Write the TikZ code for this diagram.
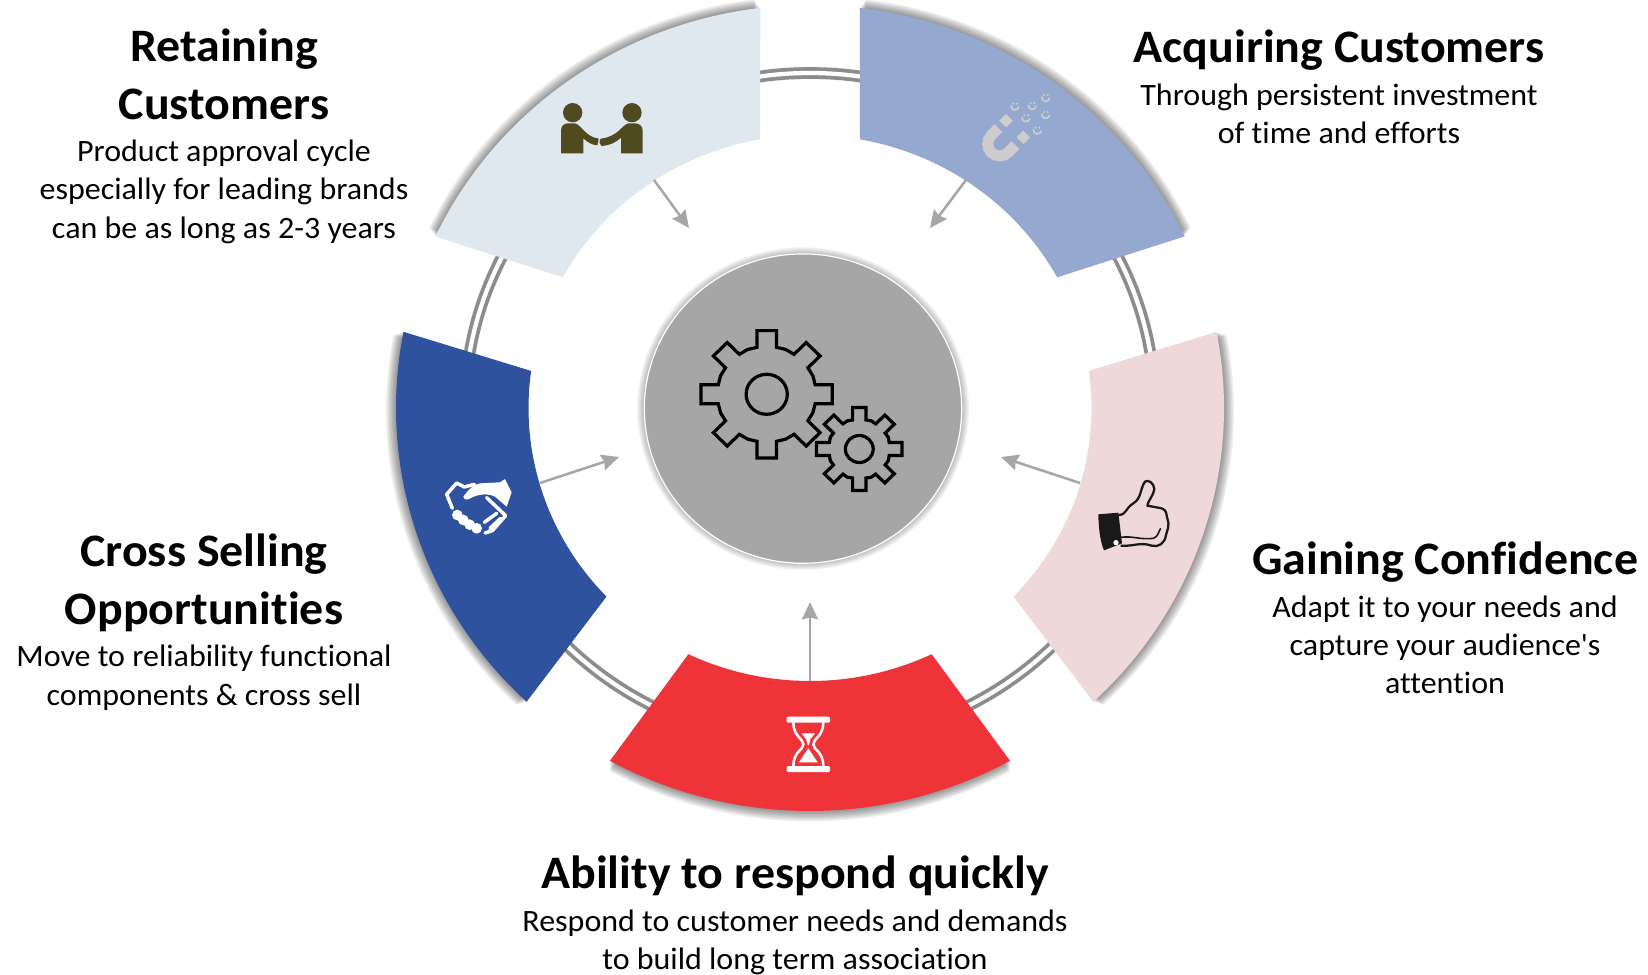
\documentclass[tikz,border=0pt]{standalone}
\usepackage{fontspec}
\setmainfont{Carlito}[Ligatures=NoCommon,FakeStretch=1.03]
\usepackage{tikz}
\usetikzlibrary{arrows.meta,shapes.geometric}

\definecolor{retaincol}{HTML}{DFE7EF}
\definecolor{acquirecol}{HTML}{95A8D0}
\definecolor{confidcol}{HTML}{EFD8D9}
\definecolor{respondcol}{HTML}{EE3339}
\definecolor{crosscol}{HTML}{2F529F}
\definecolor{ringcol}{HTML}{8C8C8C}
\definecolor{hubcol}{HTML}{A6A6A6}
\definecolor{peoplecol}{HTML}{4F4A20}
\definecolor{magnetcol}{HTML}{CDCDCD}

% colour, shadow direction, outer arc start/end, inner arc start/end
\newcommand{\wheelpath}[4]{([shift={(810,408)}]#1:414 and 403) arc[start angle=#1,end angle=#2,x radius=414,y radius=403]
  -- ([shift={(810,408)}]#3:281.5 and 273) arc[start angle=#3,end angle=#4,x radius=281.5,y radius=273] -- cycle}
\newcommand{\wheelblock}[6]{%
  \foreach \d in {1.5,3,...,10.5}
    \fill[black,opacity=0.065,shift={(#2:\d)}] \wheelpath{#3}{#4}{#5}{#6};
  \fill[#1] \wheelpath{#3}{#4}{#5}{#6};}
% centre x, centre y, tip radius, root radius, tooth half width, hole radius
\newcommand{\gearicon}[6]{%
  \begin{scope}[shift={(#1,#2)},xscale=1.03]
    \draw[black,line width=2.4pt,line join=miter] (#4,#5)
      \foreach \a in {0,45,...,315}{ -- ([rotate=\a]#4,#5) -- ([rotate=\a]#3,#5) -- ([rotate=\a]#3,-#5)
      -- ([rotate=\a]#4,-#5) -- ([rotate=\a+22.5]#4+1.5,0)} -- cycle;
    \draw[black,line width=2.4pt] (0,0) circle (#6);
  \end{scope}}

\begin{document}
\begin{tikzpicture}[x=0.75pt,y=-0.75pt,>={Stealth[length=13pt,width=12pt,inset=1.5pt]},semithick]
  \tikzstyle{heading}=[align=center,font=\fontsize{34.9}{43.5}\selectfont\bfseries,inner sep=0pt]
  \tikzstyle{bodytext}=[align=center,font=\fontsize{23.3}{28.7}\selectfont,inner sep=0pt]
  \tikzstyle{flowarrow}=[color=hubcol,line width=1.9pt]
  \useasboundingbox (0,0) rectangle (1648,974);

  % ring
  \foreach \w in {2,4,...,10}
    \draw[black,opacity=0.03,line width=\w pt] (810,408) ellipse [x radius=345,y radius=335];
  \draw[ringcol,line width=2.8pt,double=white,double distance=3.2pt] (810,408) ellipse [x radius=345,y radius=335];

  % blocks
  \wheelblock{retaincol}{-126}{-154.8}{-96.9}{-100.2}{-151.4}
  \wheelblock{acquirecol}{-54}{-83.1}{-25.2}{-28.6}{-79.8}
  \wheelblock{confidcol}{18}{-10.9}{46.8}{43.7}{-7.8}
  \wheelblock{respondcol}{90}{61.1}{118.9}{115.6}{64.4}
  \wheelblock{crosscol}{162}{133.2}{190.9}{187.8}{136.3}

  % hub
  \foreach \w in {1,2,...,7}
    \fill[black,opacity=0.04] (803,408.6) ellipse [x radius=159+\w,y radius=154.5+\w];
  \node[ellipse,fill=hubcol,draw=white,line width=0.9pt,inner sep=0pt,minimum width=238pt,minimum height=232pt] (hub) at (803,408.6) {};
  \gearicon{766.7}{394.3}{63.7}{47}{9.5}{20}
  \gearicon{859.3}{449}{41.5}{29}{6.5}{13.5}

  % arrows
  \coordinate (retainTail) at (654,180);
  \coordinate (retainTip) at (689,228);
  \coordinate (acquireTail) at (966,180);
  \coordinate (acquireTip) at (930,228);
  \coordinate (confidTail) at (1080,483);
  \coordinate (confidTip) at (1001,457);
  \coordinate (respondTail) at (810,681);
  \coordinate (respondTip) at (810,602);
  \coordinate (crossTail) at (540,483);
  \coordinate (crossTip) at (619,457);
  \path[flowarrow] (retainTail) edge[->] (retainTip)
	(acquireTail) edge[->] (acquireTip)
	(confidTail) edge[->] (confidTip)
	(respondTail) edge[->] (respondTip)
	(crossTail) edge[->] (crossTip);

  % people
  \begin{scope}[shift={(550,90)},scale=0.3333]
    \fill[peoplecol] (68,68) circle (29) (246,68) circle (29);
    \fill[peoplecol] (33,190) -- (33,122) .. controls (33,108) and (42,100) .. (55,100) -- (75,100)
      .. controls (95,105) and (105,140) .. (146,146) -- (142,166) .. controls (125,165) and (110,155) .. (100,145) -- (100,190) -- cycle;
    \fill[peoplecol] (278,190) -- (278,122) .. controls (278,108) and (268,100) .. (255,100) -- (235,100)
      .. controls (215,105) and (205,140) .. (152,146) .. controls (146,155) and (148,165) .. (155,168)
      .. controls (185,165) and (200,155) .. (213,143) -- (213,190) -- cycle;
  \end{scope}

  % magnet
  \begin{scope}[shift={(970,80)},scale=0.3333]
    \draw[magnetcol,line width=24.5pt*0.3333] (85,144) -- (63.5,166.5) arc[start angle=225,end angle=45,radius=36] -- (136.5,195.5);
    \draw[magnetcol,line width=22pt*0.3333] (98,132) -- (118,112) (150,182) -- (170,162);
    \foreach \x/\y in {135/78,187/76,227/52,168/113,227/103,202/150}{
      \draw[magnetcol,line width=1.3pt] ([shift={(\x,\y)}]10:12) arc[start angle=10,end angle=190,radius=12];
      \fill[magnetcol] (\x-5,\y-7) circle (3.5) (\x+6,\y-7) circle (3.5);}
  \end{scope}

  % handshake
  \begin{scope}[shift={(435,465)},scale=0.3333]
    \fill[white] (85,95) .. controls (100,75) and (115,58) .. (135,55) -- (195,52) -- (210,42) -- (230,82) -- (215,125)
      -- (180,95) .. controls (160,85) and (130,85) .. (100,103) .. controls (90,105) and (85,100) .. (85,95) -- cycle;
    \draw[white,line width=2.6pt,line cap=round,line join=round] (52,130) -- (35,88) -- (65,54) -- (88,66) -- (118,58);
    \draw[white,line width=2.6pt,line cap=round,line join=round] (155,98) -- (212,152) -- (172,197) -- (150,204)
      (148,172) -- (185,145) (165,190) -- (197,160);
    \fill[white] (67,150) circle (16) (85,165) circle (16) (104,179) circle (16) (125,190) circle (16);
  \end{scope}

  % thumb
  \begin{scope}[shift={(1090,475)},scale=0.3333]
    \fill[black!90] (25,118) -- (85,113) -- (96,205) -- (42,226) .. controls (30,200) and (25,150) .. (25,118) -- cycle;
    \fill[white] (78,203) circle (8);
    \draw[black!90,line width=1.7pt,line join=round] (85,120) .. controls (110,120) and (105,100) .. (130,85)
      .. controls (155,70) and (150,40) .. (165,20) .. controls (175,12) and (192,25) .. (193,42)
      .. controls (192,60) and (172,80) .. (172,92) -- (215,100) .. controls (232,105) and (228,120) .. (232,130)
      .. controls (240,150) and (232,165) .. (228,180) .. controls (225,205) and (205,218) .. (185,212)
      .. controls (150,200) and (130,215) .. (92,212);
    \draw[black!90,line width=1.2pt] (92,187) .. controls (130,182) and (150,195) .. (190,190) .. controls (205,185) and (205,170) .. (212,160);
  \end{scope}

  % hourglass
  \begin{scope}[shift={(775,710)},scale=0.3333]
    \fill[white,rounded corners=1pt] (35,20) rectangle (165,38) (35,168) rectangle (165,186);
    \draw[white,line width=1.9pt] (55,37) .. controls (55,80) and (85,85) .. (85,103) .. controls (85,120) and (55,125) .. (55,168)
      (145,37) .. controls (145,80) and (115,85) .. (115,103) .. controls (115,120) and (145,125) .. (145,168);
    \fill[white] (80,70) -- (120,70) -- (106,88) -- (102,105) -- (98,105) -- (94,88) -- cycle;
    \fill[white] (100,115) -- (128,157) -- (72,157) -- cycle;
  \end{scope}

  % labels
  \node[heading] (retainHead) at (224,74) {Retaining\\Customers};
  \node[bodytext] (retainText) [below of=retainHead,node distance=88.4pt] {Product approval cycle\\especially for leading brands\\can be as long as 2-3 years};
  \node[heading] (acquireHead) at (1339,50) {Acquiring Customers};
  \node[bodytext] (acquireText) [below of=acquireHead,node distance=47.8pt] {Through persistent investment\\of time and efforts};
  \node[heading] (confidHead) at (1445,562) {Gaining Confidence};
  \node[bodytext] (confidText) [below of=confidHead,node distance=62.1pt] {Adapt it to your needs and\\capture your audience\textquotesingle s\\attention};
  \node[heading] (respondHead) at (795,876) {Ability to respond quickly};
  \node[bodytext] (respondText) [below of=respondHead,node distance=49.7pt] {Respond to customer needs and demands\\to build long term association};
  \node[heading] (crossHead) at (204,583) {Cross Selling\\Opportunities};
  \node[bodytext] (crossText) [below of=crossHead,node distance=71pt] {Move to reliability functional\\components \& cross sell};
\end{tikzpicture}
\end{document}
